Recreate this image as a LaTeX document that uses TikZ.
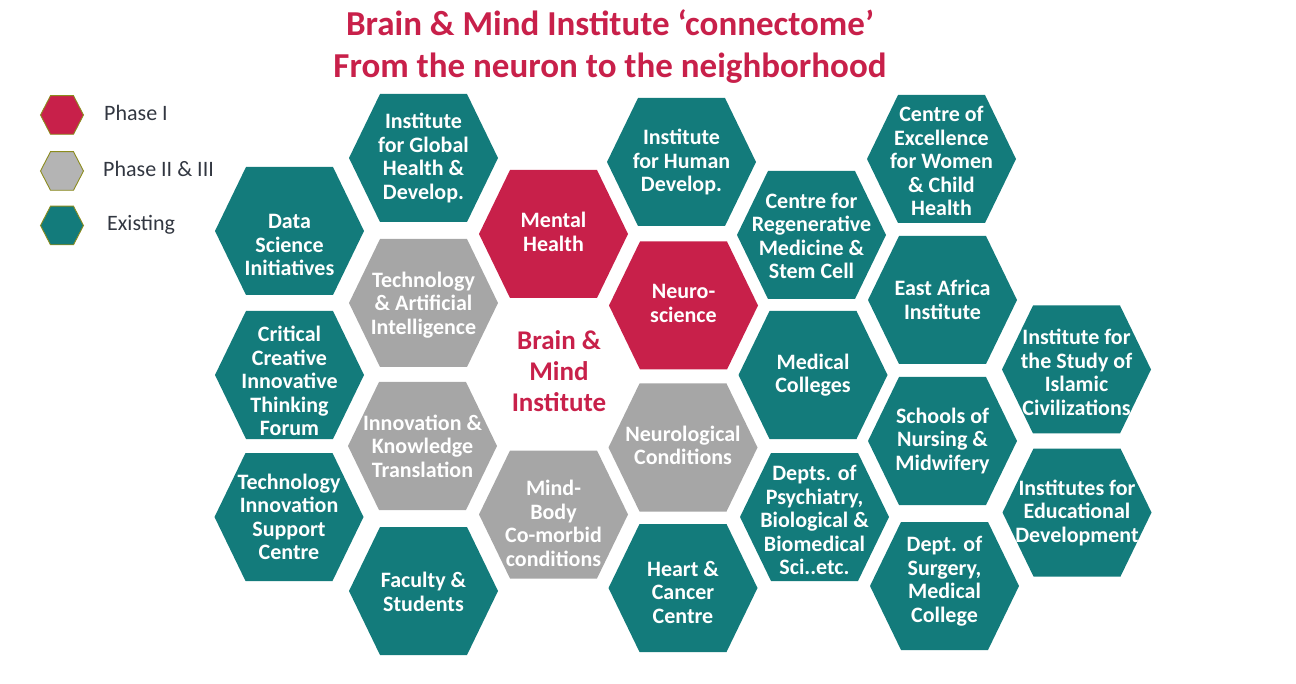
\documentclass[tikz,border=0pt]{standalone}
\usepackage{fontspec}
\setmainfont{Carlito}
\usepackage{tikz}
\usetikzlibrary{positioning}

\definecolor{hexteal}{RGB}{19,123,123}
\definecolor{hexred}{RGB}{200,32,74}
\definecolor{hexgray}{RGB}{166,166,166}
\definecolor{keygray}{RGB}{180,180,180}
\definecolor{keyedge}{RGB}{140,140,30}
\definecolor{keytext}{RGB}{50,55,65}

\begin{document}
\begin{tikzpicture}[
        x=1pt, y=-1pt,
        hexlabel/.style={text=white, align=center, inner sep=0pt,
          font=\fontsize{22}{23.5}\selectfont\bfseries},
        keyhex/.style={draw=keyedge, line width=0.9pt},
        keylabel/.style={anchor=base west, inner sep=0pt, text=keytext,
          font=\fontsize{22}{26}\selectfont},
        heading/.style={anchor=base, inner sep=0pt, text=hexred,
          font=\fontsize{35}{42}\selectfont\bfseries}
    ]
    \useasboundingbox (0,0) rectangle (1296,684);

    % Title
    \node[heading] (title) at (610,35.5) {Brain \& Mind Institute ‘connectome’};
    \node[heading] (subtitle) at (610,77.5) {From the neuron to the neighborhood};

    % Key
    \foreach \ky/\kc in {115/hexred, 171/keygray, 225.5/hexteal}
      \filldraw[keyhex, fill=\kc] (62,\ky) +(-21.5,0) -- +(-11.5,-19.3) -- +(11.5,-19.3)
        -- +(21.5,0) -- +(11.5,19.3) -- +(-11.5,19.3) -- cycle;
    \node[keylabel] (phaseone) at (104,121) {Phase I};
    \node[keylabel] (phasetwo) at (103,177) {Phase II \& III};
    \node[keylabel] (existing) at (107,231) {Existing};

    % Honeycomb
    \foreach \px/\py/\dy/\col/\nm/\txt in {
        289.5/231/14/hexteal/datasci/{Data\\Science\\Initiatives},
        289.5/375/6/hexteal/critical/{Critical\\Creative\\Innovative\\Thinking\\Forum},
        289/517/0/hexteal/techsupport/{Technology\\Innovation\\Support\\Centre},
        423.5/158/0/hexteal/globalhealth/{Institute\\for Global\\Health \&\\Develop.},
        423.5/303/2/hexgray/techai/{Technology\\\& Artificial\\Intelligence},
        422.5/446/0/hexgray/innovation/{Innovation \&\\Knowledge\\Translation},
        423.5/591/1/hexteal/faculty/{Faculty \&\\Students},
        553.5/234/-2/hexred/mental/{Mental\\Health},
        553.5/514.5/9/hexgray/mindbody/{Mind-\\Body\\Co-morbid\\conditions},
        681.5/162/0/hexteal/humandev/{Institute\\for Human\\Develop.},
        683.5/305.5/-2/hexred/neuro/{Neuro-\\science},
        683/447.5/-2/hexgray/neurocond/{Neurological\\Conditions},
        683/588/4/hexteal/heartcancer/{Heart \&\\Cancer\\Centre},
        811.5/235/1/hexteal/regenerative/{Centre for\\Regenerative\\Medicine \&\\Stem Cell},
        813/375/0/hexteal/medcolleges/{Medical\\Colleges},
        814.5/517/3/hexteal/psychiatry/{Depts. of\\Psychiatry,\\Biological \&\\Biomedical\\Sci..etc.},
        941.5/159/2/hexteal/womenchild/{Centre of\\Excellence\\for Women\\\& Child\\Health},
        942.5/300/0/hexteal/eastafrica/{East Africa\\Institute},
        942.5/441/0/hexteal/nursing/{Schools of\\Nursing \&\\Midwifery},
        944.5/586/-5/hexteal/surgery/{Dept. of\\Surgery,\\Medical\\College},
        1076.5/369.5/3/hexteal/islamic/{Institute for\\the Study of\\Islamic\\Civilizations},
        1077/512.5/0/hexteal/education/{Institutes for\\Educational\\Development}}
    {
      \fill[\col] (\px,\py) +(-74.5,0) -- +(-43.5,-64) -- +(43.5,-64)
        -- +(74.5,0) -- +(43.5,64) -- +(-43.5,64) -- cycle;
      \node[hexlabel] (\nm) at (\px,\py+\dy) {\txt};
    }

    % Centre text
    \node[align=center, inner sep=0pt, text=hexred,
      font=\fontsize{27}{31}\selectfont\bfseries] (bmi) at (559,371)
      {Brain \&\\Mind\\Institute};

\end{tikzpicture}
\end{document}
